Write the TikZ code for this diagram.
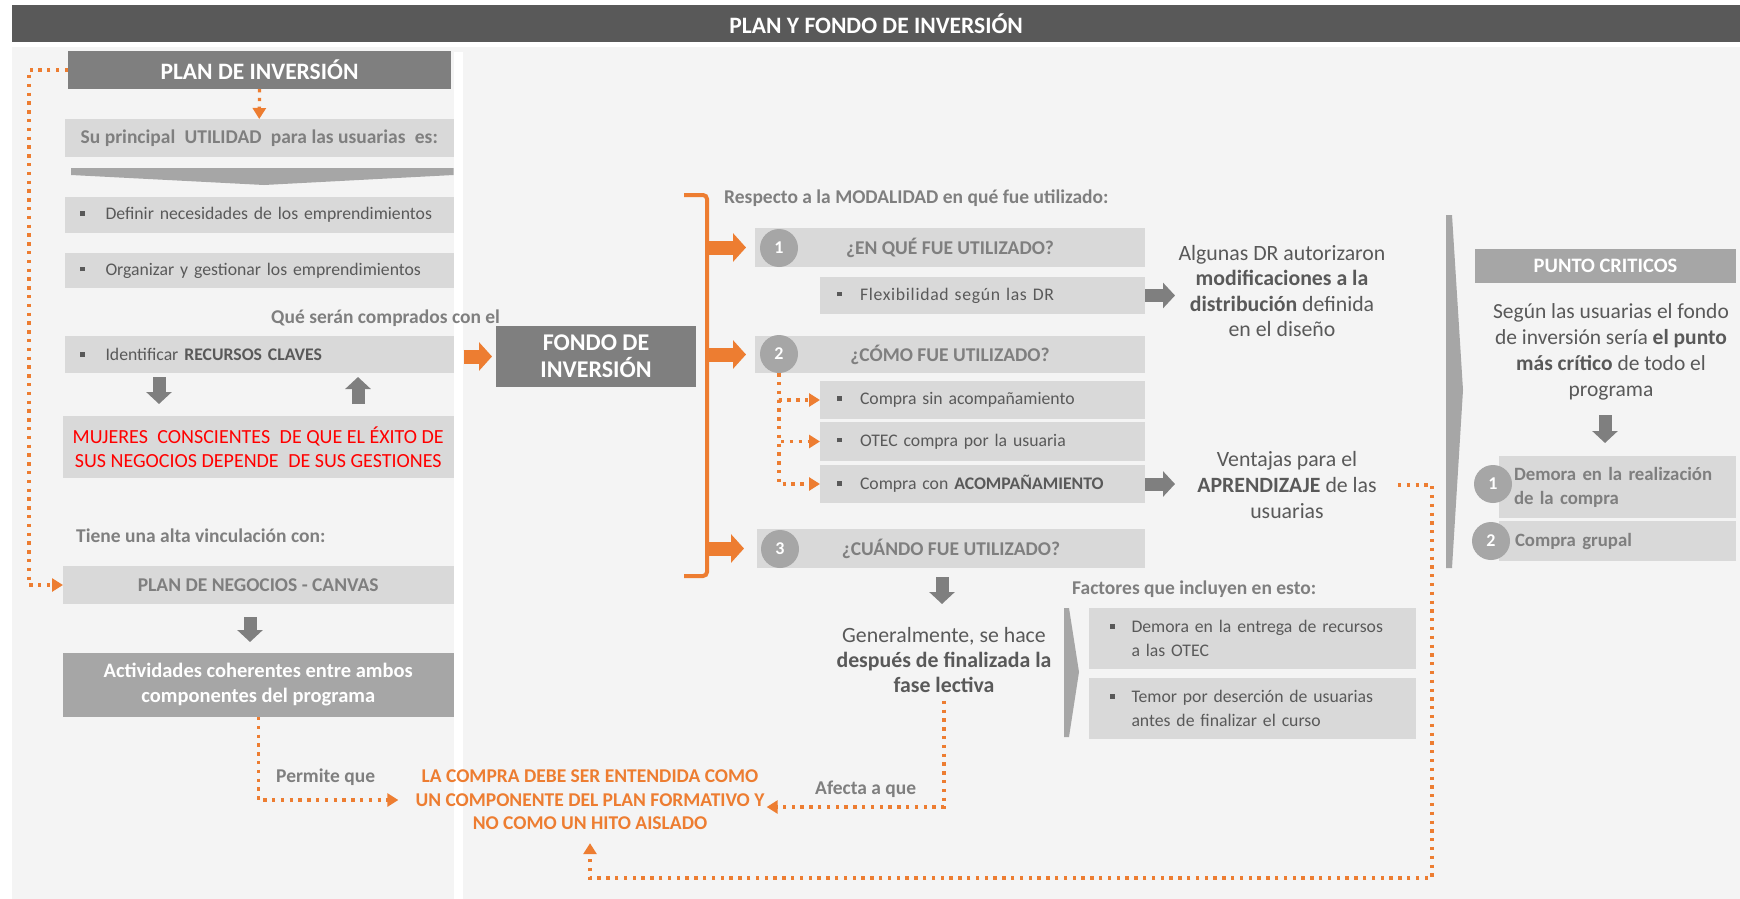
\documentclass[tikz,border=0pt]{standalone}
\usepackage{fontspec}
\setmainfont{Carlito}
\usetikzlibrary{arrows.meta,calc}
\definecolor{cTitle}{HTML}{595959}
\definecolor{cDark}{HTML}{7F7F7F}
\definecolor{cMid}{HTML}{A6A6A6}
\definecolor{cLight}{HTML}{D9D9D9}
\definecolor{cPanel}{HTML}{F4F4F4}
\definecolor{cText}{HTML}{595959}
\definecolor{cLabel}{HTML}{7F7F7F}
\definecolor{cOrange}{HTML}{ED7D31}
\definecolor{cRed}{HTML}{FF0000}
\newcommand{\fs}[2]{\fontsize{#1}{#2}\selectfont}
\newcommand{\bsq}{\textcolor{cText}{\rule[0.22em]{4.5pt}{4.5pt}}}
\newcommand{\dsp}{\hspace{0.25em}}
\tikzset{
  lbox/.style={fill=cLight, anchor=north west, inner sep=0pt, outer sep=0pt},
  dbox/.style={fill=cDark, anchor=north west, inner sep=0pt, outer sep=0pt, text=white},
  mbox/.style={fill=cMid, anchor=north west, inner sep=0pt, outer sep=0pt, text=white},
  hdr/.style={text=cLabel, font=\bfseries\fs{19.5}{22}},
  itm/.style={text=cText, font=\fs{17.7}{22}, align=left},
  lbl/.style={anchor=west, inner sep=0pt, text=cLabel, font=\bfseries\fs{19.5}{22}},
  big/.style={inner sep=0pt, text=cText, align=center},
  num/.style={circle, fill=cMid, minimum size=38pt, inner sep=0pt, text=white, font=\bfseries\fs{18}{20}},
  garrow/.style={draw=cDark, line width=13pt, -{Triangle[length=12pt,width=25pt]}},
  oarrow/.style={draw=cOrange, line width=14pt, -{Triangle[length=13pt,width=28pt]}},
  odot/.style={draw=cOrange, line width=3.3pt, dash pattern=on 3.3pt off 5.5pt, -{Triangle[length=11pt,width=13pt]}},
}
\begin{document}
\begin{tikzpicture}[x=1pt,y=-1pt]
\useasboundingbox (0,0) rectangle (1740,899);
\fill[white] (0,0) rectangle (1740,899);
\fill[cPanel] (12,47) rectangle (1740,899);
\fill[white] (453.5,52) rectangle (463,899);
% title
\node[fill=cTitle, anchor=north west, inner sep=0pt, minimum width=1728pt, minimum height=37pt, text=white, font=\bfseries\fs{23.5}{26}] (title) at (12,5) {PLAN Y FONDO DE INVERSIÓN};
% ---------- left column
\node[dbox, minimum width=383pt, minimum height=38pt, font=\bfseries\fs{23.5}{26}] (pinv) at (68,51) {PLAN DE INVERSIÓN};
\node[lbox, hdr, minimum width=388.5pt, minimum height=38pt] (util) at (65,119) {Su principal\dsp{} UTILIDAD\dsp{} para las usuarias\dsp{} es:};
\fill[cMid] (71,168) -- (453.5,168) -- (453.5,175) -- (264,185) -- (71,175) -- cycle;
\node[lbox, itm, text width=388.5pt, minimum height=36pt] (d1) at (65,197) {\hspace*{15pt}\bsq\hspace{21pt}Definir necesidades de los emprendimientos};
\node[lbox, itm, text width=388.5pt, minimum height=35pt] (d2) at (65,253) {\hspace*{15pt}\bsq\hspace{21pt}Organizar y gestionar los emprendimientos};
\node[lbl] (que) at (271,318) {Qué serán comprados con el};
\node[lbox, itm, text width=388.5pt, minimum height=37pt] (idf) at (65,336) {\hspace*{15pt}\bsq\hspace{21pt}Identificar \textbf{RECURSOS CLAVES}};
\node[lbox, minimum width=390.5pt, minimum height=62pt, text=cRed, font=\fs{20}{24}, align=center] (red) at (63,416) {MUJERES\dsp{} CONSCIENTES\dsp{} DE QUE EL ÉXITO DE\\SUS NEGOCIOS DEPENDE\dsp{} DE SUS GESTIONES};
\node[lbl] (tiene) at (76,536) {Tiene una alta vinculación con:};
\node[lbox, hdr, minimum width=390.5pt, minimum height=38pt] (canvas) at (63,566) {PLAN DE NEGOCIOS - CANVAS};
\node[mbox, minimum width=390.5pt, minimum height=64pt, font=\bfseries\fs{20.5}{25}, align=center] (act) at (63,653) {Actividades coherentes entre ambos\\componentes del programa};
\node[lbl] (perm) at (276,777) {Permite que};
\node[inner sep=0pt, text=cOrange, font=\bfseries\fs{19.5}{23.5}, align=center] (conc) at (590,800) {LA COMPRA DEBE SER ENTENDIDA COMO\\UN COMPONENTE DEL PLAN FORMATIVO Y\\NO COMO UN HITO AISLADO};
\node[lbl] (afe) at (815,789) {Afecta a que};
% ---------- fondo
\node[dbox, minimum width=200pt, minimum height=61pt, font=\bfseries\fs{24}{27}, align=center] (fondo) at (496,326) {FONDO DE\\INVERSIÓN};
\coordinate (bT) at (707,195);
\coordinate (bB) at (707,576);
\draw[cOrange, line width=4pt, rounded corners=4pt] ($(bT)+(-23,0)$) -- (bT) -- (bB) -- ($(bB)+(-23,0)$);
\node[lbl] (resp) at (724,198) {Respecto a la MODALIDAD en qué fue utilizado:};
\node[lbox, hdr, minimum width=390pt, minimum height=39pt] (q1) at (755,228) {¿EN QUÉ FUE UTILIZADO?};
\node[num] (c1) at (779,248) {1};
\node[lbox, itm, text width=325pt, minimum height=37pt] (flex) at (820,277) {\hspace*{17pt}\bsq\hspace{18.5pt}{\addfontfeature{LetterSpace=4}Flexibilidad según las DR}};
\node[lbox, hdr, minimum width=390pt, minimum height=37pt] (q2) at (755,336) {¿CÓMO FUE UTILIZADO?};
\node[num] (c2) at (779,354) {2};
\node[lbox, itm, text width=325pt, minimum height=38pt] (s1) at (820,381) {\hspace*{17pt}\bsq\hspace{18.5pt}Compra sin acompañamiento};
\node[lbox, itm, text width=325pt, minimum height=39pt] (s2) at (820,422) {\hspace*{17pt}\bsq\hspace{18.5pt}OTEC compra por la usuaria};
\node[lbox, itm, text width=325pt, minimum height=38pt] (s3) at (820,465) {\hspace*{17pt}\bsq\hspace{18.5pt}Compra con \textbf{ACOMPAÑAMIENTO}};
\node[lbox, hdr, minimum width=388pt, minimum height=39pt] (q3) at (757,529) {¿CUÁNDO FUE UTILIZADO?};
\node[num] (c3) at (780,549) {3};
\node[big, font=\fs{21.8}{25}] (gen) at (944,660) {Generalmente, se hace\\\textbf{después de finalizada la}\\\textbf{fase lectiva}};
\node[lbl] (fac) at (1072,589) {Factores que incluyen en esto:};
\fill[cMid] (1064,608) -- (1069,608) -- (1079,672) -- (1069,737) -- (1064,737) -- cycle;
\node[lbox, itm, text width=327pt, minimum height=61pt, font=\fs{17.7}{24}] (f1) at (1089,608) {\hspace*{21pt}\bsq\hspace{17pt}\makebox[270pt][s]{Demora en la entrega de recursos}\\\hspace*{42.5pt}a las OTEC};
\node[lbox, itm, text width=327pt, minimum height=61pt, font=\fs{17.7}{24}] (f2) at (1089,678) {\hspace*{21pt}\bsq\hspace{17pt}\makebox[270pt][s]{Temor por deserción de usuarias}\\\hspace*{42.5pt}antes de finalizar el curso};
% ---------- right side
\node[big, font=\fs{21.8}{25.5}] (alg) at (1282,291) {Algunas DR autorizaron\\\textbf{modificaciones a la}\\\textbf{distribución} definida\\en el diseño};
\node[big, font=\fs{21.8}{26}] (ven) at (1287,485) {Ventajas para el\\\textbf{APRENDIZAJE} de las\\usuarias};
\fill[cMid] (1446,215) -- (1452,215) -- (1463,390) -- (1452,568) -- (1446,568) -- cycle;
\node[mbox, minimum width=261pt, minimum height=34pt, font=\bfseries\fs{20.5}{22}] (pc) at (1475,249) {PUNTO CRITICOS};
\node[big, font=\fs{21.5}{26}] (seg) at (1611,352) {Según las usuarias el fondo\\de inversión sería \textbf{el punto}\\\textbf{más crítico} de todo el\\programa};
\node[lbox, hdr, text width=237pt, align=left, minimum height=62pt, font=\bfseries\fs{18.8}{24}] (k1b) at (1499,456) {\hspace*{15pt}\makebox[206pt][s]{Demora en la realización}\\\hspace*{15pt}de la compra};
\node[num] (k1) at (1493,484) {1};
\node[lbox, hdr, text width=237pt, align=left, minimum height=40pt, font=\bfseries\fs{18.8}{22}] (k2b) at (1499,521) {\hspace*{16pt}Compra grupal};
\node[num] (k2) at (1491,541) {2};
% ---------- connectors
\draw[odot] (pinv.south) -- (util.north);
\draw[odot] (pinv.west) -- ++(-39,0) |- (canvas.west);
\coordinate (aD1) at (159,404);
\coordinate (aU1) at (358,377);
\draw[garrow, shorten <=4pt] (idf.south -| aD1) -- (aD1);
\draw[garrow, shorten <=12pt] (red.north -| aU1) -- (aU1);
\coordinate (aD2) at (250,642);
\draw[garrow, shorten <=13pt] (canvas.south -| aD2) -- (aD2);
\draw[oarrow, shorten <=10pt, shorten >=4pt] (idf.east |- fondo.west) -- (fondo.west);
\draw[oarrow, shorten >=9pt] (bT |- q1.west) -- (q1.west);
\draw[oarrow, shorten >=9pt] (bT |- q2.west) -- (q2.west);
\draw[oarrow, shorten >=13pt] (bT |- q3.west) -- (q3.west);
\foreach \s in {s1,s2,s3} \draw[odot] (c2.south) |- (\s.west);
\coordinate (gT1) at (1175,0);
\draw[garrow] (flex.east) -- (flex.east -| gT1);
\draw[garrow] (s3.east) -- (s3.east -| gT1);
\coordinate (gT3) at (942,604);
\draw[garrow, shorten <=9pt] (q3.south -| gT3) -- (gT3);
\coordinate (gT4) at (1605,415);
\draw[garrow, shorten >=13pt] (gT4) -- (gT4 |- k1b.north);
\draw[odot, shorten >=17pt] (act.south) |- (conc.west);
\coordinate (gB) at (944,807);
\draw[odot, shorten <=8pt] (gen.south) |- ($(conc.east |- gB)+(2,0)$);
\coordinate (vR) at (1432,878);
\draw[odot, shorten <=21pt, shorten >=13pt] (ven.east) -| (vR) -| (conc.south);
\end{tikzpicture}
\end{document}
